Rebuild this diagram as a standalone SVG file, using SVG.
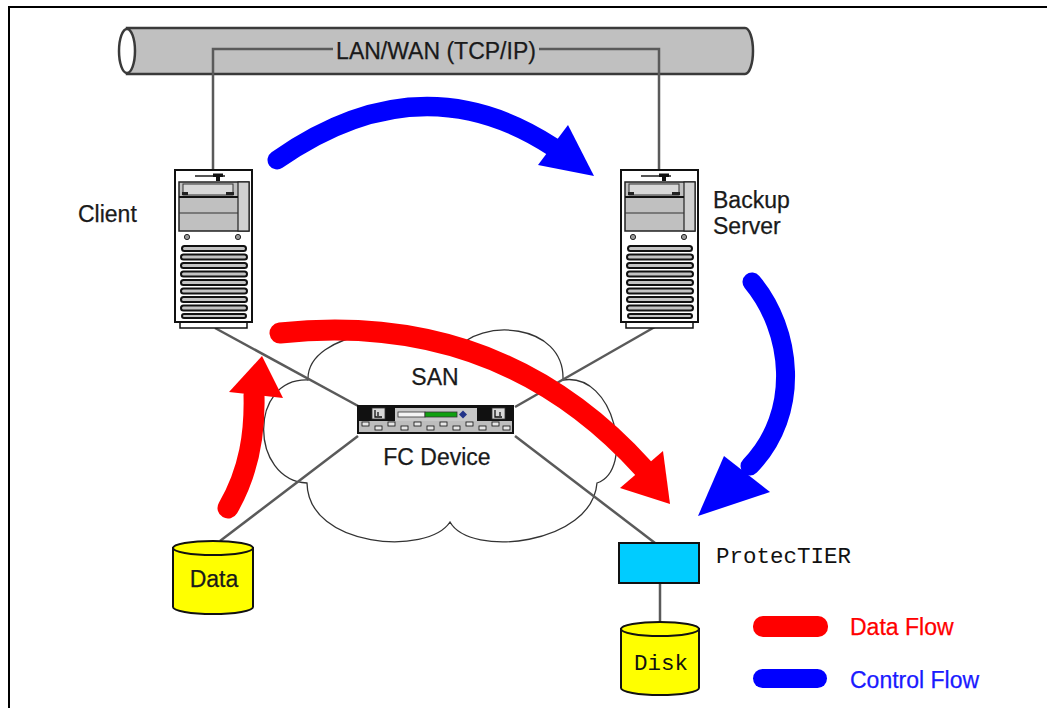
<svg xmlns="http://www.w3.org/2000/svg" xmlns:xlink="http://www.w3.org/1999/xlink" width="1047" height="708" viewBox="0 0 1047 708">
  <style>
    .lbl { font-family: "Liberation Sans", Arial, sans-serif; font-size: 23px; fill: #1a1a1a; stroke: #1a1a1a; stroke-width: 0.25; }
    .mono { font-family: "Liberation Mono", "Courier New", monospace; font-size: 22.5px; fill: #111; }
    .link { stroke: #5a5a5a; stroke-width: 2.5; fill: none; }
    .data { stroke: #ff0000; stroke-width: 21; fill: none; stroke-linecap: round; }
    .ctrl { stroke: #0000ff; stroke-width: 19; fill: none; stroke-linecap: round; }
    .cyl { fill: #ffff00; stroke: #111; stroke-width: 2; }
    .vent { fill: #c4c4c4; stroke: #111; stroke-width: 2; }
  </style>
  <defs>
    <!-- tower server -->
    <g id="server">
      <rect x="5" y="152" width="67" height="6" fill="#fff" stroke="#111" stroke-width="1.5"/>
      <rect x="0" y="0" width="77" height="152" fill="#fff" stroke="#111" stroke-width="2"/>
      <line x1="20" y1="6" x2="50" y2="6" stroke="#555" stroke-width="2"/>
      <rect x="38" y="3.5" width="10" height="3.5" fill="#111"/>
      <rect x="41" y="7" width="4" height="4" fill="#111"/>
      <rect x="4" y="12" width="70" height="49" fill="#c0c0c0" stroke="#222" stroke-width="1.5"/>
      <rect x="63" y="12" width="11" height="49" fill="#d0d0d0" stroke="#222" stroke-width="1.2"/>
      <rect x="8" y="14" width="50" height="11" fill="#d8d8d8" stroke="#333" stroke-width="1"/>
      <line x1="4" y1="27" x2="63" y2="27" stroke="#111" stroke-width="2"/>
      <line x1="4" y1="43" x2="63" y2="43" stroke="#333" stroke-width="1.2"/>
      <rect x="7" y="22" width="6" height="3" fill="#222"/>
      <rect x="51" y="22" width="8" height="3" fill="#222"/>
      <circle cx="12" cy="67" r="2.6" fill="#999" stroke="#222" stroke-width="1"/>
      <circle cx="63" cy="67" r="2.6" fill="#999" stroke="#222" stroke-width="1"/>
      <rect class="vent" x="7" y="76" width="64" height="5" rx="2.5"/>
      <rect class="vent" x="6" y="84.5" width="66" height="5" rx="2.5"/>
      <rect class="vent" x="6" y="93" width="66" height="5" rx="2.5"/>
      <rect class="vent" x="6" y="101.5" width="66" height="5" rx="2.5"/>
      <rect class="vent" x="6" y="110" width="66" height="5" rx="2.5"/>
      <rect class="vent" x="6" y="118.5" width="66" height="5" rx="2.5"/>
      <rect class="vent" x="6" y="127" width="66" height="5" rx="2.5"/>
      <rect class="vent" x="6" y="135.5" width="66" height="5" rx="2.5"/>
      <rect class="vent" x="7" y="144" width="64" height="4" rx="2"/>
    </g>
  </defs>

  <rect width="1047" height="708" fill="#fff"/>
  <!-- frame -->
  <path d="M9 708 V7 H1047" fill="none" stroke="#000" stroke-width="2"/>

  <!-- LAN/WAN pipe -->
  <g id="lan">
    <path d="M127 28 H745 A8 23 0 0 1 745 74 H127 Z" fill="#c0c0c0" stroke="#3a3a3a" stroke-width="2.5"/>
    <ellipse cx="127" cy="51" rx="8" ry="22" fill="#fff" stroke="#3a3a3a" stroke-width="2.5"/>
  </g>

  <!-- SAN cloud -->
  <g id="san">
    <path d="M308 380 C306 330 420 318 457 350 C478 318 565 322 563 380 C615 372 635 470 597 483 C592 545 470 558 450 522 C428 556 308 548 307 483 C250 480 248 378 308 380 Z" fill="#fff" stroke="#333" stroke-width="1.3"/>
  </g>

  <!-- connectors -->
  <g id="connectors">
    <path class="link" d="M213 172 V49 H333"/>
    <path class="link" d="M539 49 H659 V172"/>
    <line class="link" x1="215" y1="328" x2="360" y2="407"/>
    <line class="link" x1="515" y1="407" x2="660" y2="324"/>
    <line class="link" x1="358" y1="436" x2="220" y2="541"/>
    <line class="link" x1="515" y1="436" x2="655" y2="543"/>
    <line class="link" x1="660" y1="583" x2="660" y2="622"/>
  </g>

  <!-- client -->
  <g id="client">
    <use xlink:href="#server" x="175" y="170"/>
    <text class="lbl" x="78" y="222">Client</text>
  </g>

  <!-- backup server -->
  <g id="backup-server">
    <use xlink:href="#server" x="621" y="170"/>
    <text class="lbl" x="713" y="208">Backup</text>
    <text class="lbl" x="713" y="234">Server</text>
  </g>

  <!-- FC switch -->
  <g id="fc-device">
    <rect x="357" y="405" width="157" height="29" fill="#111"/>
    <rect x="359" y="421" width="153" height="11" fill="#bdbdbd"/>
    <g fill="#e6e6e6" stroke="#111" stroke-width="0.8">
      <rect x="362" y="422" width="7" height="4"/><rect x="375" y="426" width="7" height="4"/>
      <rect x="388" y="422" width="7" height="4"/><rect x="401" y="426" width="7" height="4"/>
      <rect x="414" y="422" width="7" height="4"/><rect x="427" y="426" width="7" height="4"/>
      <rect x="440" y="422" width="7" height="4"/><rect x="453" y="426" width="7" height="4"/>
      <rect x="466" y="422" width="7" height="4"/><rect x="479" y="426" width="7" height="4"/>
      <rect x="492" y="422" width="7" height="4"/><rect x="503" y="426" width="7" height="4"/>
    </g>
    <rect x="372" y="408" width="13" height="11" fill="#d8d8d8" stroke="#333" stroke-width="0.8"/>
    <path d="M375 410 V417 H382 M378 412 V416" stroke="#111" stroke-width="1.3" fill="none"/>
    <rect x="492" y="408" width="13" height="11" fill="#d8d8d8" stroke="#333" stroke-width="0.8"/>
    <path d="M495 410 V417 H502 M500 412 V416" stroke="#111" stroke-width="1.3" fill="none"/>
    <rect x="395" y="408" width="82" height="13" fill="#c8c8c8"/>
    <rect x="398" y="412" width="27" height="5" fill="#f4f4f4" stroke="#333" stroke-width="0.8"/>
    <rect x="425" y="412" width="32" height="5" fill="#10a010" stroke="#333" stroke-width="0.8"/>
    <path d="M463 410.5 L467 414.5 L463 418.5 L459 414.5 Z" fill="#223388"/>
    <text class="lbl" x="435" y="385" text-anchor="middle">SAN</text>
    <text class="lbl" x="437" y="465" text-anchor="middle">FC Device</text>
  </g>

  <!-- data volume -->
  <g id="data">
    <path class="cyl" d="M173 548 V607 A40 7 0 0 0 253 607 V548 Z"/>
    <ellipse class="cyl" cx="213" cy="548" rx="40" ry="7"/>
    <text class="lbl" x="214" y="587" text-anchor="middle">Data</text>
  </g>

  <!-- ProtecTIER -->
  <g id="protectier">
    <rect x="619" y="543" width="80" height="40" fill="#00ccff" stroke="#111" stroke-width="2"/>
    <text class="mono" x="716" y="563">ProtecTIER</text>
  </g>

  <!-- disk -->
  <g id="disk">
    <path class="cyl" d="M621 629 V688 A39 7 0 0 0 699 688 V629 Z"/>
    <ellipse class="cyl" cx="660" cy="629" rx="39" ry="7"/>
    <text class="mono" x="661" y="670" text-anchor="middle">Disk</text>
  </g>

  <!-- flows -->
  <g id="flows">
    <path class="ctrl" d="M277 160 Q420 60 553 147"/>
    <polygon points="568,125 594,176 538,165" fill="#0000ff"/>
    <path class="ctrl" d="M752 282 C792 330 802 412 750 466"/>
    <polygon points="724,456 770,492 698,516" fill="#0000ff"/>
    <path class="data" d="M280 333 Q500 310 643 468"/>
    <polygon points="663,451 620,488 670,504" fill="#ff0000"/>
    <path class="data" d="M228 508 C250 470 255 432 254 395"/>
    <polygon points="229,392 262,356 283,398" fill="#ff0000"/>
  </g>

  <!-- legend -->
  <g id="legend">
    <rect x="753" y="616" width="75" height="21" rx="10" fill="#ff0000"/>
    <rect x="753" y="669" width="74" height="19" rx="9.5" fill="#0000ff"/>
    <text class="lbl" x="850" y="635" style="fill:#ff0000;stroke:#ff0000">Data Flow</text>
    <text class="lbl" x="850" y="688" style="fill:#1a1aff;stroke:#1a1aff">Control Flow</text>
  </g>

  <!-- network label -->
  <g id="lan-label">
    <text class="lbl" x="436" y="59" text-anchor="middle">LAN/WAN (TCP/IP)</text>
  </g>
</svg>
